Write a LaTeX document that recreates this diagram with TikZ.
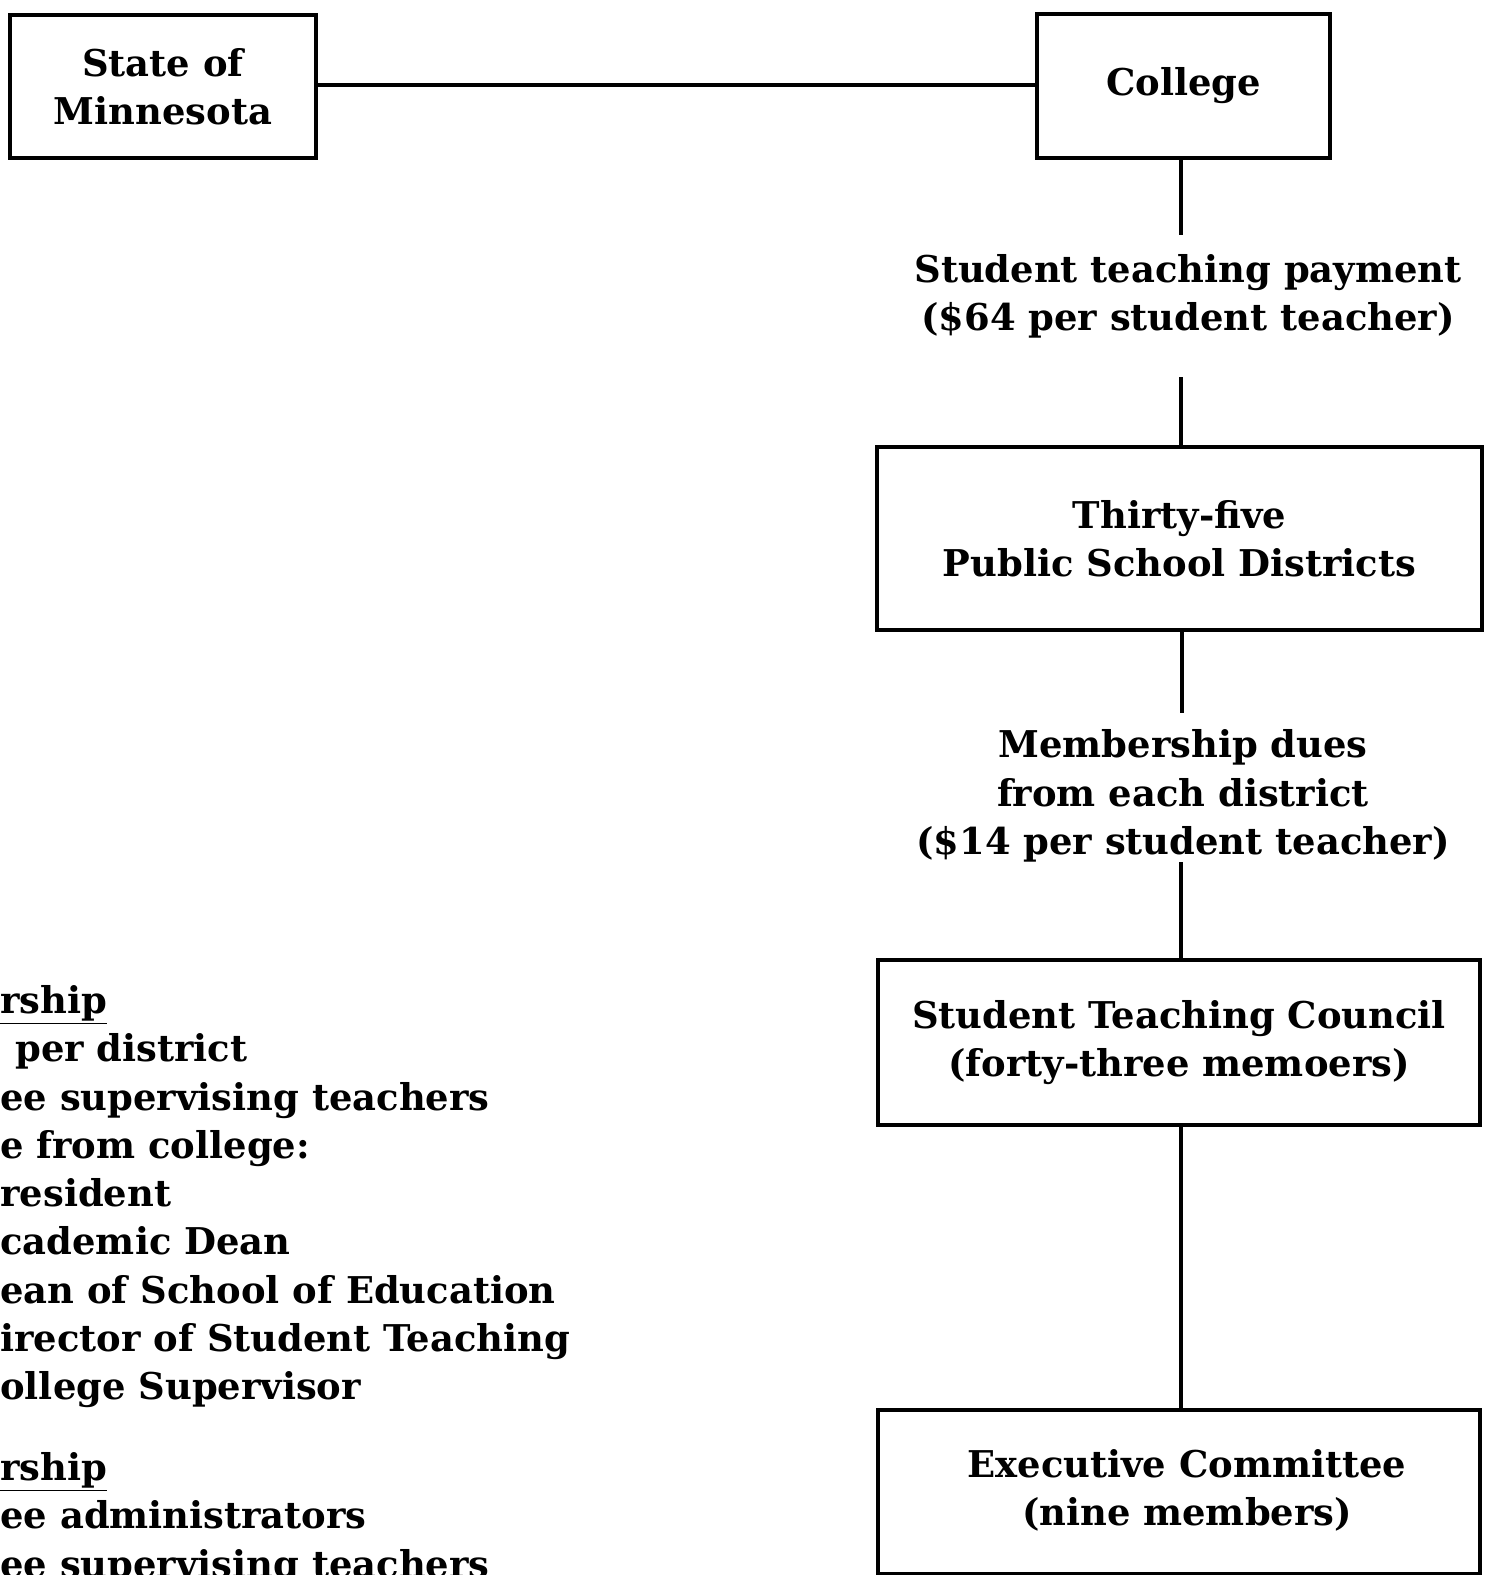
\documentclass[tikz,border=0pt]{standalone}
\usepackage{fontspec}
\setmainfont{DejaVu Serif}
\begin{document}
\begin{tikzpicture}[x=0.02cm,y=-0.02cm,
  every node/.style={font=\bfseries\fontsize{21}{27.5}\selectfont},
  box/.style={draw, line width=2.6pt, minimum width=#1, inner sep=0pt},
  link/.style={line width=1.8pt},
  label/.style={align=center, inner sep=0pt}]
\useasboundingbox (0,0) rectangle (1493,1575);
\clip (0,0) rectangle (1493,1575);

% organisation boxes
\node[box=306*0.02cm, minimum height=143*0.02cm, align=center] (state) at (163,86.5) {State of\\Minnesota};
\node[box=293*0.02cm, minimum height=144*0.02cm] (college) at (1183.5,86) {College};
\node[box=605*0.02cm, minimum height=183*0.02cm, align=center] (districts) at (1179.5,538.5) {Thirty-five\\Public School Districts};
\node[box=602*0.02cm, minimum height=165*0.02cm, align=center] (council) at (1179,1042.5) {Student Teaching Council\\(forty-three memoers)};
\node[box=602*0.02cm, minimum height=164*0.02cm] (exec) at (1179,1492) {};
\node[label] (execname) at (1187,1490) {Executive Committee\\(nine members)};

% payment labels
\node[label] (pay) at (1188,296) {Student teaching payment\\(\$64 per student teacher)};
\node[label] (dues) at (1183,796) {Membership dues\\from each district\\(\$14 per student teacher)};
\coordinate (payTop) at (1181,235);
\coordinate (payBot) at (1181,377);
\coordinate (duesTop) at (1182,713);
\coordinate (duesBot) at (1181,862);

% connectors
\draw[link] (state.east |- 0,85) -- (college.west |- 0,85);
\draw[link] (college.south -| payTop) -- (payTop);
\draw[link] (payBot) -- (districts.north -| payBot);
\draw[link] (districts.south -| duesTop) -- (duesTop);
\draw[link] (duesBot) -- (council.north -| duesBot);
\draw[link] (council.south -| 1181,0) -- (exec.north -| 1181,0);

% membership lists
\node[anchor=north west, align=left, inner sep=0pt] (members) at (0,985)
  {\underline{rship}\\
   \hspace{0.3cm}per district\\
   ee supervising teachers\\
   e from college:\\
   resident\\
   cademic Dean\\
   ean of School of Education\\
   irector of Student Teaching\\
   ollege Supervisor};
\node[anchor=north west, align=left, inner sep=0pt] (execmembers) at (0,1452)
  {\underline{rship}\\
   ee administrators\\
   ee supervising teachers};
\end{tikzpicture}
\end{document}
